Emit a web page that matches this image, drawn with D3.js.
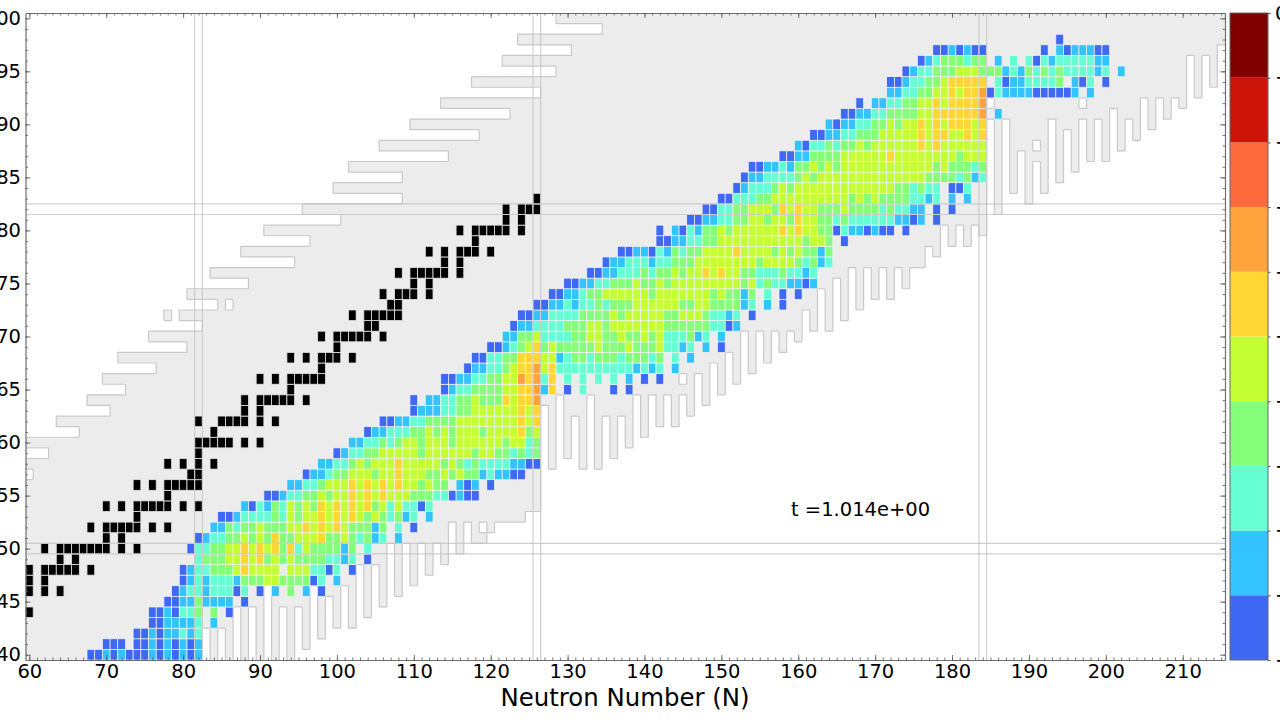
<!DOCTYPE html>
<html><head><meta charset="utf-8">
<script src="https://cdn.jsdelivr.net/npm/d3@7/dist/d3.min.js"></script>
<style>html,body{margin:0;padding:0;background:#fff;overflow:hidden}svg{display:block;font-family:"DejaVu Sans",sans-serif}</style>
</head><body><div id="c"></div>
<script>
// Abundance bands: colour of each band from bottom to top of the colour bar
const bandColors=["#3f68f5","#33c3ff","#66ffd4","#85ff7a","#c4ff33","#ffd633","#ffa33d","#ff6a3d","#cc1408","#800000"];
const bandLabels=["\u221210","\u22129","\u22128","\u22127","\u22126","\u22125","\u22124","\u22123","\u22122","\u22121","0"];
const xTickValues=[60,70,80,90,100,110,120,130,140,150,160,170,180,190,200,210];
const yTickValues=[40,45,50,55,60,65,70,75,80,85,90,95,100];
const magicN=[82,126,184];
const magicZ=[50,82];
const timeLabel="t =1.014e+00";
const xTitle="Neutron Number (N)";

// First neutron number of the known-nuclide area, for Z = 40 ... 101
const chartStart=[59,59,59,59,59,59,59,59,59,59,59,59,59,59,59,59,59,61,59,63,59,67,64,71,68,73,70,77,72,81,76,83,78,85,81,89,84,95,88,97,91,101,96,109,100,109,102,115,106,119,110,123,114,127,118,129,122,131,124,135,129,129];
// Lowest Z of the known-nuclide area, for N = 83 ... 216
const chartFloor=[43,39,43,39,45,39,45,39,47,39,45,39,45,41,47,42,46,43,47,43,49,44,49,45,51,46,51,47,51,48,51,49,53,50,53,51,51,52,53,53,53,53,54,54,64,58,65,59,63,58,65,58,63,59,63,60,65,61,65,62,65,62,65,63,67,64,68,65,69,66,71,67,71,68,71,69,71,70,73,71,75,71,76,72,77,73,77,74,77,74,77,75,77,77,79,78,81,79,81,79,81,80,91,82,91,84,88,83,87,84,91,85,90,86,91,87,91,87,92,88,91,89,93,90,93,91,93,92,97,93,97,94,98,98];
const chartHoleN=[79,86,119,145,185,191,197];
const chartHoleZ=[72,73,52,66,92,88,92];

// Stable nuclides: Z and its neutron numbers
const stableZ=[44,46,47,48,49,50,51,52,53,54,55,56,57,58,59,60,61,62,63,64,65,66,67,68,69,70,71,72,73,74,75,76,77,78,79,80,81,82,83];
const stableN=[[60],[60,62,64],[60,62],[60,62,63,64,65,66,68],[64,66],[62,64,65,66,67,68,69,70,72,74],[70,72],[68,70,71,72,73,74,76,78],[74],[70,72,74,75,76,77,78,80,82],[78],[74,76,78,79,80,81,82],[81,82],[78,80,82,84],[82],[82,83,84,85,86,88,90],[84],[82,85,86,87,88,90,92],[88,90],[88,90,91,92,93,94,96],[94],[90,92,94,95,96,97,98],[98],[94,96,98,99,100,102],[100],[98,100,101,102,103,104,106],[104,105],[102,104,105,106,107,108],[107,108],[106,108,109,110,112],[110,112],[108,110,111,112,113,114,116],[114,116],[112,114,116,117,118,120],[118],[116,118,119,120,121,122,124],[122,124],[122,124,125,126],[126]];

// Abundance map, Z = 40 ... 98: first N of each row and the band (1-9) of each following N; "." = empty
const heatStart=[68,70,74,76,76,78,79,80,80,82,81,82,84,85,88,91,94,96,98,100,102,104,106,110,110,114,114,117,118,120,122,123,124,126,128,130,133,135,137,142,142,146,148,150,152,153,154,158,160,162,164,166,168,172,172,174,176,178,194];
const heatCells=[
"112121112"+"121212",
"111.112121212",
"112122323",
"1122223.2",
"1121334.4.1",
"112242222.1",
"1233233313.1.2.4.2.1",
"1232333244455444413.2",
"1233444565555"+"."+"55533"+"13.1",
"344455656"+"454544443323"+".1",
"1334455656564635444424.3",
"12334454546"+"44555"+"644543"+"423"+".2",
"22434454445565656"+"544424"+".3.1",
"1123333435"+"4556"+"5656"+"545"+"434"+"23"+".2",
"2132435454656565645353313",
"11233445455656565554443"+"31211",
"223345556565656554544"+".212.1",
"122344555455655544"+"54544"+"232211",
"2233454555655555"+"45434"+"3333"+"2211",
"12334455555455"+"5555"+"455"+"4434"+"34",
"223343455455"+"54555555"+"45534",
"1223334454"+"5455545555645",
"11223344"+"4455555555656",
"12223344"+"555555"+"656",
"1.2233445"+"444"+"65667",
"123344445566726.1.3...1.1",
"112233445576736"+".3.3.3.3.2.1.1",
"122334566756"+"3333333333"+"2323.2",
"113344666552"+"3443444344434"+".3.2",
"1123456"+"4544444"+"544454"+"4453323"+".2.1",
"22445"+"3333"+"4455"+"44544"+"545"+"333"+"423"+".2",
"1223333"+"444"+"55"+"4"+"5555555"+"444444"+"33"+"12",
"112233334444"+"5455"+"555445554"+"33"+"23"+".1",
"1122323343"+"4445"+"55555"+"4455"+"4444"+"23"+".2.1",
"11223"+"44"+"555555"+"4"+"5555555"+"4544"+"24"+".3.1.1",
"112233"+"4445"+"4454"+"555555555"+"45"+"3433"+"2212",
"1122333"+"4344"+"5455"+"65655"+"44"+"333"+"433"+"23",
"122333"+"233"+"444"+"55555555"+"4"+"5555"+"43423",
"11221"+"32"+"4344"+"5555"+"6"+"5555"+"4545"+"44"+"24",
"112233"+"44"+"55555555555"+"4554"+".1",
"1.2132"+"44"+"54"+"555555"+"65655"+"44"+"13221211"+".1",
"112233"+"44"+"55"+"4"+"55"+"4"+"6"+"55"+"44"+"34"+"333333"+"2212"+".1",
"1133"+"44"+"555"+"4"+"65655"+"444"+"5"+"4444"+"3433"+"22"+".1.1",
"11333"+"44"+"5555555555"+"4545"+"4444"+"33"+"23"+".2.2",
"12333"+"4"+"54"+"5555555555555"+"44"+"34"+"33"+".113",
"1223333"+"4"+"5455555555"+"5555554"+"444"+"34"+"23",
"112232"+"44"+"54545"+"55555555555"+"4"+"5"+"444"+"34",
"1122"+"4444"+"555555"+"6"+"55555555"+"4"+"555",
"21334344"+"54"+"555555"+"6"+"5"+"6"+"555555",
"112233"+"444"+"55555"+"6"+"5"+"66"+"55"+"6"+"5"+"6",
"212233"+"44"+"5"+"4"+"55"+"6"+"5"+"6"+"5"+"666"+"5"+"6",
"112233"+"4444"+"55"+"666666"+"7"+".2",
"1.2233"+"44"+"55"+"6"+"5"+"6666"+"7",
"2233"+"44"+"55"+"6"+"5"+"66"+"7"+"13"+"2222"+"11111"+"2"+".2",
"11233"+"44"+"5"+"66666"+".3"+"1"+"22"+"3333"+"4"+".2"+"13"+".1",
"123344"+"4"+"555"+"444"+"2324"+"3434"+"3333"+"23"+".2",
"123444344"+".2.3."+"3132"+"33333"+"22",
"1121211"+"......."+"1"+"."+"2122211",
"1"];

const W=1280,H=720,plotL=25.5,plotR=1225,plotT=13,plotB=660;
const x=d3.scaleLinear().domain([59.5,215.5]).range([plotL,plotR]);
const y=d3.scaleLinear().domain([39.5,100.5]).range([plotB,plotT]);
const cw=x(1)-x(0), ch=y(0)-y(1);
const color=d3.scaleOrdinal().domain(d3.range(1,11)).range(bandColors);

const svg=d3.select("#c").append("svg").attr("width",W).attr("height",H);
svg.append("defs").append("clipPath").attr("id","plot").append("rect")
  .attr("x",plotL).attr("y",plotT).attr("width",plotR-plotL).attr("height",plotB-plotT);
const plot=svg.append("g").attr("clip-path","url(#plot)");

// known nuclide area
const holes=new Set(chartHoleN.map((n,i)=>n+":"+chartHoleZ[i]));
function known(n,z){
  if(z<39||z>101||n<59||n>216) return false;
  if(z===39) return n<=82||(chartFloor[n-83]<=39);
  if(n<chartStart[z-40]) return false;
  const fl=n<=82?39:chartFloor[n-83];
  if(z<fl) return false;
  return !holes.has(n+":"+z);
}
const area=d3.path(), edge=d3.path();
for(let n=59;n<=216;n++)for(let z=39;z<=101;z++){
  if(!known(n,z)) continue;
  const a=x(n-.5),b=x(n+.5),t=y(z+.5),u=y(z-.5);
  area.rect(a,t,b-a,u-t);
  if(!known(n-1,z)&&n>59){edge.moveTo(a,t);edge.lineTo(a,u);}
  if(!known(n+1,z)&&n<216){edge.moveTo(b,t);edge.lineTo(b,u);}
  if(!known(n,z+1)&&z<101){edge.moveTo(a,t);edge.lineTo(b,t);}
  if(!known(n,z-1)&&z>39){edge.moveTo(a,u);edge.lineTo(b,u);}
}
plot.append("path").attr("d",area.toString()).attr("fill","#ececec");
plot.append("path").attr("d",edge.toString()).attr("fill","none").attr("stroke","#c9c9c9").attr("stroke-width",1.2);

// stable nuclides
const stable=stableZ.flatMap((z,i)=>stableN[i].map(n=>({n,z})));
plot.append("g").selectAll("rect").data(stable).join("rect")
  .attr("x",d=>x(d.n-.5)).attr("y",d=>y(d.z+.5)).attr("width",cw).attr("height",ch)
  .attr("fill","#000").attr("stroke","#e4e4e4").attr("stroke-width",.8);

// abundance cells
const cells=[];
heatCells.forEach((row,i)=>{[...row].forEach((c,j)=>{if(c!==".")cells.push({z:40+i,n:heatStart[i]+j,b:+c});});});
plot.append("g").selectAll("rect").data(cells).join("rect")
  .attr("x",d=>x(d.n-.5)).attr("y",d=>y(d.z+.5)).attr("width",cw).attr("height",ch)
  .attr("fill",d=>color(d.b)).attr("stroke","#f4f4f4").attr("stroke-width",.7);

// magic number guide lines
const guides=plot.append("g").attr("stroke","#c4c4c4").attr("stroke-width",1.2).attr("stroke-opacity",.8);
magicN.forEach(n=>[n-.5,n+.5].forEach(v=>guides.append("line").attr("x1",x(v)).attr("x2",x(v)).attr("y1",plotT).attr("y2",plotB)));
magicZ.forEach(z=>[z-.5,z+.5].forEach(v=>guides.append("line").attr("y1",y(v)).attr("y2",y(v)).attr("x1",plotL).attr("x2",plotR)));

// axes
const minorX=d3.range(60,216), minorY=d3.range(40,101);
function styleAxis(g,spine){
  g.select(".domain").attr("stroke",spine?"#6e6e6e":"none").attr("stroke-width",1.2);
  g.selectAll(".tick line").attr("stroke","#555").attr("stroke-width",.8);
}
function blank(){return "";}
const gx=(fn,pos,vals,size,fmt,spine)=>{const g=svg.append("g").attr("transform",`translate(0,${pos})`).call(fn(x).tickValues(vals).tickSize(size).tickSizeOuter(0).tickPadding(7).tickFormat(fmt));styleAxis(g,spine);return g;};
const gy=(fn,pos,vals,size,fmt,spine)=>{const g=svg.append("g").attr("transform",`translate(${pos},0)`).call(fn(y).tickValues(vals).tickSize(size).tickSizeOuter(0).tickPadding(7).tickFormat(fmt));styleAxis(g,spine);return g;};
gx(d3.axisBottom,plotB,minorX,-2.5,blank,false);
gx(d3.axisTop,plotT,minorX,-2.5,blank,false);
gy(d3.axisLeft,plotL,minorY,-2.5,blank,false);
gy(d3.axisRight,plotR,minorY,-2.5,blank,false);
const ax=gx(d3.axisBottom,plotB,xTickValues,-5,d3.format("d"),true);
gx(d3.axisTop,plotT,xTickValues,-5,blank,true);
const ay=gy(d3.axisLeft,plotL,yTickValues,-5,d3.format("d"),true);
gy(d3.axisRight,plotR,yTickValues,-5,blank,true);
[ax,ay].forEach(g=>g.selectAll("text").attr("fill","#000").style("font-size","19.5px").style("font-family",'"DejaVu Sans"'));
ax.selectAll("text").attr("y",4).attr("dy","0.71em");
ay.selectAll("text").attr("x",-4.5);

svg.append("text").attr("x",625).attr("y",705.5).attr("text-anchor","middle").style("font-size","24.4px").text(xTitle);
svg.append("text").attr("x",791).attr("y",516).attr("text-anchor","start").style("font-size","19.5px").text(timeLabel);

// colour bar
const cbX0=1230,cbX1=1268;
const cb=d3.scaleLinear().domain([0,10]).range([plotB,plotT]);
svg.append("g").selectAll("rect").data(bandColors).join("rect")
  .attr("x",cbX0).attr("width",cbX1-cbX0).attr("y",(d,i)=>cb(i+1)).attr("height",(d,i)=>cb(i)-cb(i+1)).attr("fill",d=>d);
svg.append("rect").attr("x",cbX0).attr("y",plotT).attr("width",cbX1-cbX0).attr("height",plotB-plotT).attr("fill","none").attr("stroke","#666").attr("stroke-width",1);
const cba=svg.append("g").attr("transform",`translate(${cbX1},0)`).call(d3.axisRight(cb).tickValues(d3.range(0,11)).tickSize(2.5).tickSizeOuter(0).tickPadding(4.5).tickFormat(d=>bandLabels[d]));
cba.select(".domain").attr("stroke","none");
cba.selectAll(".tick line").attr("stroke","#555");
cba.selectAll("text").attr("fill","#000").style("font-size","19.5px").style("font-family",'"DejaVu Sans"');
</script></body></html>
